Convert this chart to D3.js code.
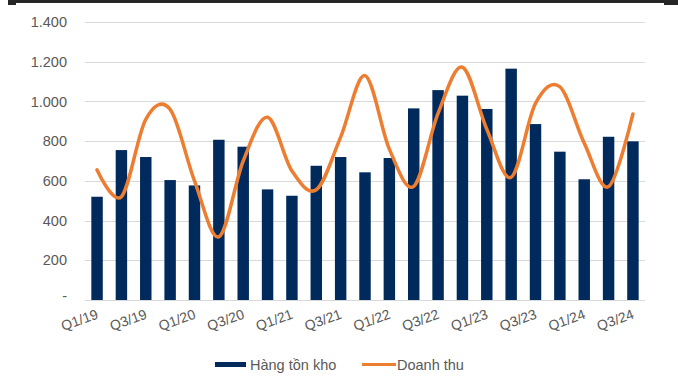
<!DOCTYPE html>
<html>
<head>
<meta charset="utf-8">
<script src="https://cdn.jsdelivr.net/npm/d3@7/dist/d3.min.js"></script>
<style>
  html, body { margin: 0; padding: 0; background: #ffffff; }
  svg { display: block; font-family: "Liberation Sans", Arial, sans-serif; }
</style>
</head>
<body>
<svg id="chart" width="678" height="378"></svg>
<script>
// Quarterly inventory (bars) and revenue (smoothed line)
const quarters = ["Q1/19","Q2/19","Q3/19","Q4/19","Q1/20","Q2/20","Q3/20","Q4/20",
                  "Q1/21","Q2/21","Q3/21","Q4/21","Q1/22","Q2/22","Q3/22","Q4/22",
                  "Q1/23","Q2/23","Q3/23","Q4/23","Q1/24","Q2/24","Q3/24"];
const inventory = [520, 755, 720, 604, 577, 807, 772, 557, 525, 676, 720, 643,
                   715, 965, 1057, 1029, 962, 1165, 886, 747, 608, 822, 799];
const revenue = [655, 520, 910, 960, 600, 318, 700, 920, 650, 555, 820, 1130,
                 760, 572, 940, 1172, 860, 618, 990, 1074, 790, 571, 937];
const yTicks = [0, 200, 400, 600, 800, 1000, 1200, 1400];
const xLabelEvery = 2;
const seriesNames = ["Hàng tồn kho", "Doanh thu"];

const svg = d3.select("#chart");
const plotLeft = 85, plotRight = 645, plotTop = 22, plotBottom = 300;

const x = d3.scaleBand().domain(quarters).range([plotLeft, plotRight])
  .paddingInner(0.53).paddingOuter(0.26);
const y = d3.scaleLinear().domain([0, 1400]).range([plotBottom, plotTop]);

// Header rule
svg.append("rect").attr("x", 8).attr("y", 0).attr("width", 670).attr("height", 3).attr("fill", "#262626");
svg.append("rect").attr("x", 8).attr("y", 0).attr("width", 8).attr("height", 5).attr("fill", "#262626");
svg.append("rect").attr("x", 664).attr("y", 1).attr("width", 14).attr("height", 4).attr("fill", "#262626");

// Gridlines
svg.append("g").selectAll("line").data(yTicks).join("line")
  .attr("x1", plotLeft).attr("x2", plotRight)
  .attr("y1", d => Math.round(y(d)) + 0.5).attr("y2", d => Math.round(y(d)) + 0.5)
  .attr("stroke", "#d9d9d9").attr("stroke-width", 1);

// Y axis labels
const fmt = d => d === 0 ? "-" : d3.format(",")(d).replace(/,/g, ".");
svg.append("g").selectAll("text").data(yTicks).join("text")
  .attr("x", 67).attr("y", d => y(d) - (d === 0 ? 4 : 0))
  .attr("dy", "0.35em").attr("text-anchor", "end")
  .attr("font-size", "14.5px").attr("fill", "#595959")
  .text(fmt);

// Bars
svg.append("g").selectAll("rect").data(quarters).join("rect")
  .attr("x", d => x(d)).attr("width", x.bandwidth())
  .attr("y", (d, i) => y(inventory[i]))
  .attr("height", (d, i) => y(0) - y(inventory[i]))
  .attr("fill", "#002a5c");

// Revenue line
const line = d3.line()
  .x((d, i) => x(quarters[i]) + x.bandwidth() / 2)
  .y(d => y(d))
  .curve(d3.curveCardinal.tension(0));
svg.append("path").datum(revenue)
  .attr("d", line).attr("fill", "none")
  .attr("stroke", "#ed7d31").attr("stroke-width", 3.5)
  .attr("stroke-linecap", "round").attr("stroke-linejoin", "round");

// X axis labels
svg.append("g").selectAll("text")
  .data(quarters.filter((d, i) => i % xLabelEvery === 0)).join("text")
  .attr("transform", d => `translate(${x(d) + x.bandwidth() / 2 + 2},${318}) rotate(-20)`)
  .attr("text-anchor", "end")
  .attr("font-size", "14px").attr("fill", "#595959")
  .text(d => d);

// Legend
const lg = svg.append("g");
lg.append("rect").attr("x", 215).attr("y", 362).attr("width", 31).attr("height", 5).attr("fill", "#002a5c");
lg.append("text").attr("x", 250).attr("y", 365).attr("dy", "0.35em")
  .attr("font-size", "14.5px").attr("fill", "#595959").text(seriesNames[0]);
lg.append("line").attr("x1", 362).attr("x2", 396).attr("y1", 364.5).attr("y2", 364.5)
  .attr("stroke", "#ed7d31").attr("stroke-width", 3);
lg.append("text").attr("x", 397).attr("y", 365).attr("dy", "0.35em")
  .attr("font-size", "14.5px").attr("fill", "#595959").text(seriesNames[1]);
</script>
</body>
</html>
